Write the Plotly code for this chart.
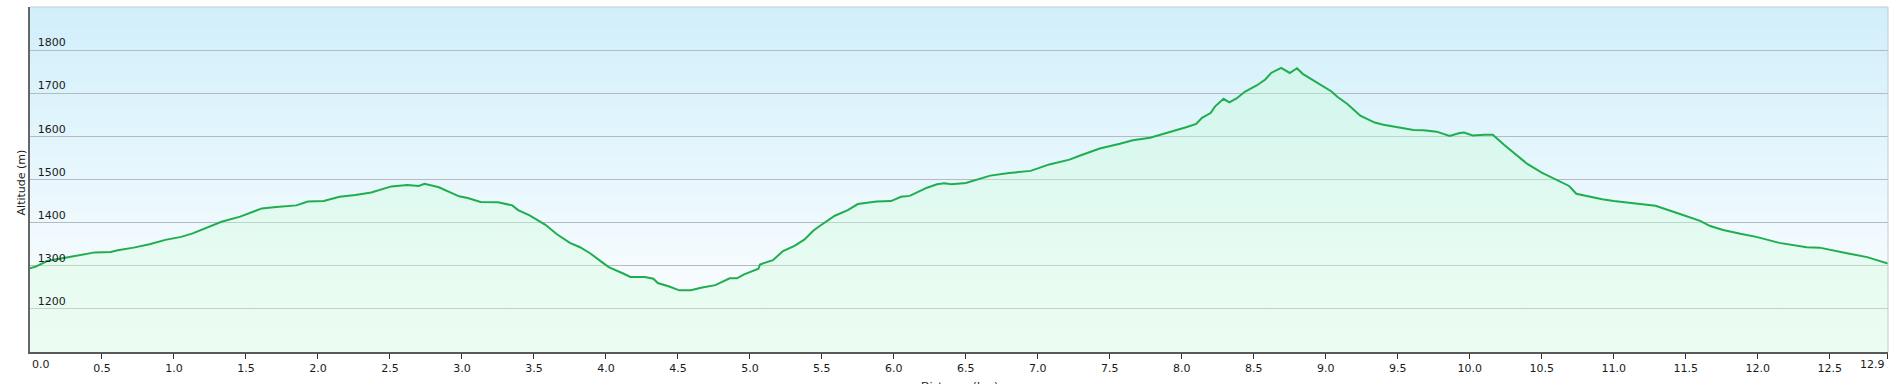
import base64
import struct
import zlib

import plotly.graph_objects as go

# ---------------- data ----------------
distance_km = [
    0.00, 0.04, 0.12, 0.23, 0.34, 0.45, 0.56, 0.61, 0.72, 0.83, 0.94, 1.05, 1.13, 1.22,
    1.33, 1.46, 1.61, 1.71, 1.85, 1.93, 2.04, 2.15, 2.26, 2.37, 2.43, 2.51, 2.62, 2.70,
    2.74, 2.84, 2.98, 3.04, 3.13, 3.25, 3.35, 3.39, 3.47, 3.58, 3.66, 3.75, 3.82, 3.89,
    3.97, 4.02, 4.12, 4.17, 4.27, 4.33, 4.36, 4.44, 4.51, 4.59, 4.66, 4.76, 4.86, 4.91,
    4.96, 5.06, 5.07, 5.16, 5.23, 5.31, 5.38, 5.44, 5.48, 5.53, 5.59, 5.68, 5.75, 5.88,
    5.98, 6.05, 6.11, 6.23, 6.30, 6.35, 6.40, 6.50, 6.67, 6.80, 6.95, 7.08, 7.15, 7.22,
    7.29, 7.43, 7.57, 7.66, 7.78, 7.89, 8.03, 8.10, 8.14, 8.20, 8.23, 8.29, 8.33, 8.38,
    8.44, 8.52, 8.58, 8.62, 8.69, 8.75, 8.80, 8.84, 8.91, 8.95, 9.04, 9.08, 9.15, 9.24,
    9.34, 9.40, 9.54, 9.61, 9.68, 9.77, 9.86, 9.93, 9.96, 10.02, 10.10, 10.16, 10.24,
    10.32, 10.40, 10.50, 10.61, 10.69, 10.74, 10.92, 11.00, 11.29, 11.45, 11.60, 11.67,
    11.76, 11.88, 11.99, 12.15, 12.25, 12.34, 12.43, 12.53, 12.62, 12.76, 12.85, 12.905,
]
altitude_m = [
    1294, 1298, 1311, 1318, 1325, 1331, 1332, 1336, 1342, 1350, 1360, 1367, 1375, 1387,
    1402, 1414, 1433, 1436, 1440, 1449, 1450, 1460, 1464, 1470, 1476, 1484, 1487, 1485,
    1490, 1482, 1461, 1457, 1448, 1447, 1440, 1429, 1417, 1395, 1373, 1353, 1343, 1329,
    1309, 1297, 1282, 1274, 1274, 1270, 1260, 1252, 1243, 1243, 1249, 1255, 1271, 1271,
    1280, 1293, 1303, 1313, 1334, 1346, 1361, 1381, 1391, 1402, 1416, 1429, 1443, 1449,
    1450, 1460, 1462, 1481, 1489, 1491, 1489, 1492, 1509, 1515, 1520, 1535, 1540, 1546,
    1555, 1572, 1583, 1591, 1597, 1607, 1621, 1629, 1643, 1654, 1669, 1687, 1679, 1688,
    1704, 1718, 1732, 1747, 1759, 1747, 1758, 1745, 1730, 1722, 1704, 1692, 1675, 1648,
    1632, 1627, 1619, 1615, 1614, 1611, 1601, 1608, 1609, 1602, 1604, 1604, 1580,
    1559, 1536, 1516, 1497, 1485, 1467, 1454, 1450, 1439, 1421, 1404, 1392,
    1383, 1374, 1367, 1353, 1348, 1343, 1342, 1336, 1329, 1320, 1311, 1305,
]

x_tick_vals = [0.0, 0.5, 1.0, 1.5, 2.0, 2.5, 3.0, 3.5, 4.0, 4.5, 5.0, 5.5, 6.0, 6.5,
               7.0, 7.5, 8.0, 8.5, 9.0, 9.5, 10.0, 10.5, 11.0, 11.5, 12.0, 12.5, 12.9]
x_tick_labels = ["0.0", "0.5", "1.0", "1.5", "2.0", "2.5", "3.0", "3.5", "4.0", "4.5",
                 "5.0", "5.5", "6.0", "6.5", "7.0", "7.5", "8.0", "8.5", "9.0", "9.5",
                 "10.0", "10.5", "11.0", "11.5", "12.0", "12.5", "12.9"]
y_tick_vals = [1200, 1300, 1400, 1500, 1600, 1700, 1800]
y_tick_labels = ["1200", "1300", "1400", "1500", "1600", "1700", "1800"]

x_title = "Distance (km)"
y_title = "Altitude (m)"

# the first and last labels sit inside the plot edges (left / right aligned),
# so they are drawn as axis-anchored annotations; the axis draws the others
x_tick_text = [""] + x_tick_labels[1:-1] + [""]


# ---------------- background gradient image (style only) ----------------
def make_gradient_png(stops, height=256, width=2):
    rows = []
    for i in range(height):
        t = i / (height - 1)
        for j in range(len(stops) - 1):
            t0, c0 = stops[j]
            t1, c1 = stops[j + 1]
            if t0 <= t <= t1:
                f = 0 if t1 == t0 else (t - t0) / (t1 - t0)
                c = [round(c0[k] + (c1[k] - c0[k]) * f) for k in range(3)]
                break
        rows.append(b"\x00" + bytes(c) * width)
    raw = b"".join(rows)

    def chunk(tag, data):
        return (struct.pack(">I", len(data)) + tag + data +
                struct.pack(">I", zlib.crc32(tag + data) & 0xFFFFFFFF))

    ihdr = struct.pack(">IIBBBBB", width, height, 8, 2, 0, 0, 0)
    png = (b"\x89PNG\r\n\x1a\n" + chunk(b"IHDR", ihdr) +
           chunk(b"IDAT", zlib.compress(raw, 9)) + chunk(b"IEND", b""))
    return "data:image/png;base64," + base64.b64encode(png).decode()


bg_uri = make_gradient_png([
    (0.00, (209, 239, 250)),
    (0.50, (232, 247, 253)),
    (0.75, (245, 251, 254)),
    (1.00, (249, 253, 254)),
])

TEXT = "#1a1a1a"
FONT = dict(family="DejaVu Sans, Verdana, sans-serif", size=11, color=TEXT)

# ---------------- figure ----------------
fig = go.Figure()
fig.add_trace(go.Scatter(
    x=distance_km,
    y=altitude_m,
    mode="lines",
    line=dict(color="#1fae4e", width=2),
    fill="tozeroy",
    fillgradient=dict(
        type="vertical",
        start=1100,
        stop=1900,
        colorscale=[[0, "rgba(214,252,224,0.38)"], [1, "rgba(196,252,212,0.38)"]],
    ),
    hoverinfo="skip",
    showlegend=False,
))

annotations = [
    # edge tick labels
    dict(text=x_tick_labels[0], xref="x", x=x_tick_vals[0], xanchor="left",
         yref="paper", y=-0.036, yanchor="middle", showarrow=False, font=FONT),
    dict(text=x_tick_labels[-1], xref="x", x=x_tick_vals[-1], xanchor="right",
         yref="paper", y=-0.036, yanchor="middle", showarrow=False, font=FONT),
    # axis titles
    dict(text=x_title, xref="paper", x=0.5, xanchor="center",
         yref="paper", y=-0.075, yanchor="top", showarrow=False, font=FONT),
    dict(text=y_title, xref="paper", x=0, xanchor="right", xshift=0,
         yref="paper", y=0.49, yanchor="middle", textangle=-90,
         showarrow=False, font=FONT),
]

fig.update_layout(
    width=1893,
    height=384,
    margin=dict(l=30, r=5, t=7, b=32, pad=0),
    paper_bgcolor="#ffffff",
    plot_bgcolor="rgba(0,0,0,0)",
    font=FONT,
    showlegend=False,
    annotations=annotations,
    images=[dict(
        source=bg_uri, xref="paper", yref="paper", x=0, y=1, sizex=1, sizey=1,
        xanchor="left", yanchor="top", sizing="stretch", layer="below",
    )],
    shapes=[
        dict(type="line", xref="paper", yref="paper", x0=0, x1=1, y0=1, y1=1,
             line=dict(color="#c4cbce", width=1), layer="above"),
        dict(type="line", xref="paper", yref="paper", x0=1, x1=1, y0=0, y1=1,
             line=dict(color="#c4cbce", width=1), layer="above"),
    ],
)

fig.update_xaxes(
    range=[0, 12.905],
    automargin=False,
    tickmode="array",
    tickvals=x_tick_vals,
    ticktext=x_tick_text,
    ticks="outside",
    ticklen=5,
    tickwidth=1,
    tickcolor="#333333",
    showline=True,
    linecolor="#5a5a5a",
    linewidth=2,
    showgrid=False,
    zeroline=False,
    tickfont=FONT,
    fixedrange=True,
)

fig.update_yaxes(
    range=[1100, 1900],
    automargin=False,
    tickmode="array",
    tickvals=y_tick_vals,
    ticktext=y_tick_labels,
    ticks="",
    ticklabelposition="inside top",
    ticklabelstandoff=6,
    showline=True,
    linecolor="#666666",
    linewidth=2,
    showgrid=True,
    gridcolor="#b3bbbf",
    gridwidth=1,
    zeroline=False,
    tickfont=FONT,
    fixedrange=True,
)

fig.write_html("out.html")
